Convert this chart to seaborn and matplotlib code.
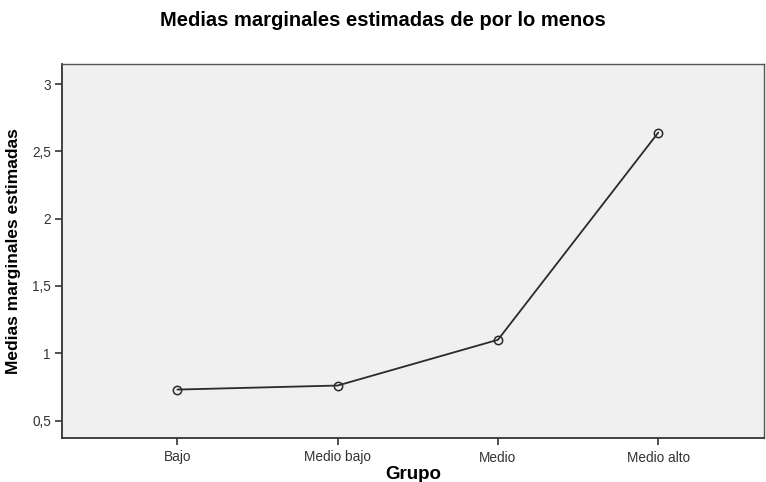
import pandas as pd
import seaborn as sns
import matplotlib.pyplot as plt

grupos = ["Bajo", "Medio bajo", "Medio", "Medio alto"]
medias = [0.73, 0.76, 1.10, 2.64]
yticks = [0.5, 1, 1.5, 2, 2.5, 3]
ytick_labels = ["0,5", "1", "1,5", "2", "2,5", "3"]

df = pd.DataFrame({"grupo": grupos, "media": medias})

sns.set_style("white")
plt.rcParams["font.family"] = ["Liberation Sans", "DejaVu Sans"]

fig = plt.figure(figsize=(7.66, 4.82), dpi=100)
ax = fig.add_axes([62 / 766, 44 / 482, 702 / 766, 374 / 482])
ax.set_facecolor("#f0f0f0")

sns.lineplot(data=df, x="grupo", y="media", ax=ax, color="#2a2a2a", linewidth=1.3,
             marker="o", markersize=6, markerfacecolor="none",
             markeredgecolor="#2a2a2a", markeredgewidth=1.1)

ax.set_xlim(-0.72, 3.66)
ax.set_ylim(0.37, 3.15)
ax.set_yticks(yticks)
ax.set_yticklabels(ytick_labels)

ax.tick_params(axis="both", bottom=True, left=True, direction="out", length=5,
               width=1.2, color="#333333", labelsize=9.8, labelcolor="#333333")
ax.tick_params(axis="x", pad=4)
ax.tick_params(axis="y", pad=3)

for side in ["left", "bottom"]:
    ax.spines[side].set_color("#333333")
    ax.spines[side].set_linewidth(1.3)
for side in ["top", "right"]:
    ax.spines[side].set_color("#555555")
    ax.spines[side].set_linewidth(1.0)

ax.set_xlabel("Grupo", fontsize=13.5, fontweight="bold", color="black", labelpad=1)
ax.set_ylabel("Medias marginales estimadas", fontsize=12.5, fontweight="bold",
              color="black", labelpad=8)
fig.text(0.5, 0.957, "Medias marginales estimadas de por lo menos",
         ha="center", va="center", fontsize=14.5, fontweight="bold", color="black")

fig.savefig("out.png", dpi=100)
